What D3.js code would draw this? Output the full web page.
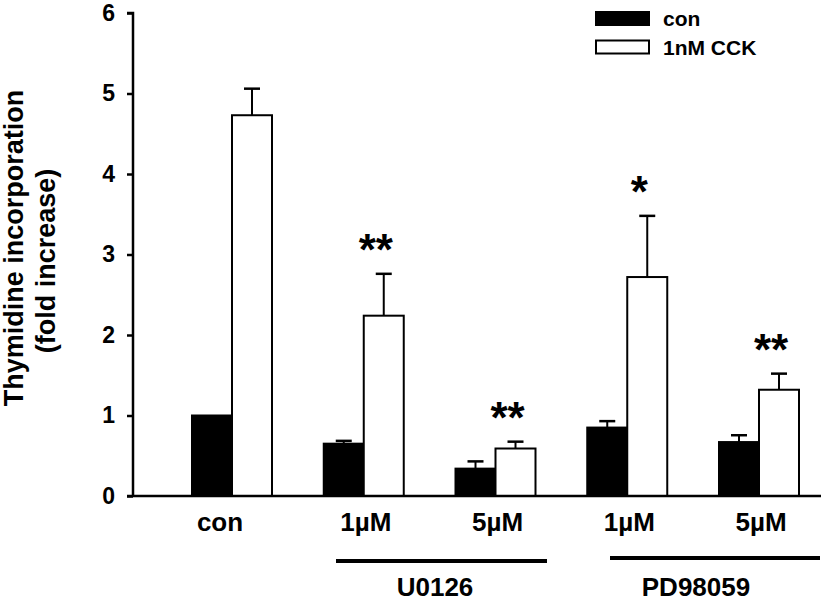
<!DOCTYPE html>
<html><head><meta charset="utf-8">
<script src="https://cdn.jsdelivr.net/npm/d3@7"></script>
<style>
html,body{margin:0;padding:0;background:#fff;}
svg{display:block;font-family:Arial,"Liberation Sans",sans-serif;font-weight:bold;}
</style></head>
<body><svg id="chart" width="826" height="602"></svg>
<script>
// ---- data ----
const groups = ["con", "U0126 1µM", "U0126 5µM", "PD98059 1µM", "PD98059 5µM"];
const groupLabels = ["con", "1µM", "5µM", "1µM", "5µM"];
const seriesNames = ["con", "1nM CCK"];
const conValues = [1.0, 0.65, 0.34, 0.85, 0.67];
const conErrors = [0.0, 0.035, 0.09, 0.08, 0.085];
const cckValues = [4.73, 2.24, 0.59, 2.72, 1.32];
const cckErrors = [0.33, 0.52, 0.085, 0.76, 0.2];
const significance = ["", "**", "**", "*", "**"];
const yTicks = [0, 1, 2, 3, 4, 5, 6];
const inhibitors = [
  {name: "U0126", members: ["U0126 1µM", "U0126 5µM"]},
  {name: "PD98059", members: ["PD98059 1µM", "PD98059 5µM"]}
];

// ---- layout ----
const svg = d3.select("#chart");
const x0 = 133, x1 = 821, yBase = 496, yTop = 13;
const y = d3.scaleLinear().domain([0, 6]).range([yBase, yTop]);
const x = d3.scalePoint().domain(groups).range([232, 759]);
const sub = d3.scaleBand().domain(seriesNames).range([-40, 40]);
const fills = {"con": "#000", "1nM CCK": "#fff"};

const rows = groups.map((g, i) => ({
  g, i,
  bars: [
    {s: "con", v: conValues[i], e: conErrors[i]},
    {s: "1nM CCK", v: cckValues[i], e: cckErrors[i]}
  ]
}));

// bars
const gg = svg.selectAll("g.grp").data(rows).enter().append("g")
  .attr("class", "grp").attr("transform", d => `translate(${x(d.g)},0)`);
gg.selectAll("rect").data(d => d.bars).enter().append("rect")
  .attr("x", d => sub(d.s)).attr("width", sub.bandwidth())
  .attr("y", d => y(d.v)).attr("height", d => yBase - y(d.v))
  .attr("fill", d => fills[d.s]).attr("stroke", "#000").attr("stroke-width", 2);
// error bars (upward)
const eb = gg.selectAll("g.err").data(d => d.bars.filter(b => b.e > 0)).enter().append("g").attr("class", "err");
eb.append("line")
  .attr("x1", d => sub(d.s) + sub.bandwidth() / 2).attr("x2", d => sub(d.s) + sub.bandwidth() / 2)
  .attr("y1", d => y(d.v)).attr("y2", d => y(d.v + d.e))
  .attr("stroke", "#000").attr("stroke-width", 2);
eb.append("line")
  .attr("x1", d => sub(d.s) + sub.bandwidth() / 2 - 8).attr("x2", d => sub(d.s) + sub.bandwidth() / 2 + 8)
  .attr("y1", d => y(d.v + d.e)).attr("y2", d => y(d.v + d.e))
  .attr("stroke", "#000").attr("stroke-width", 2.5);
// significance stars
gg.append("text")
  .attr("x", d => sub("1nM CCK") + sub.bandwidth() / 2 - 8)
  .attr("y", d => y(cckValues[d.i] + cckErrors[d.i]) - 9)
  .attr("text-anchor", "middle").attr("font-size", 44)
  .text(d => significance[d.i]);

// y axis
const yAxis = d3.axisLeft(y).tickValues(yTicks).tickSize(6).tickPadding(12).tickFormat(d3.format("d"));
const ya = svg.append("g").attr("transform", `translate(${x0},0)`).call(yAxis);
ya.select(".domain").attr("stroke", "#000").attr("stroke-width", 2.5).attr("d", `M-6,${yTop}H0V${yBase}`);
ya.selectAll(".tick line").attr("stroke", "#000").attr("stroke-width", 2.5);
ya.selectAll(".tick text").attr("font-size", 23).attr("font-weight", "bold")
  .attr("font-family", "Arial,'Liberation Sans',sans-serif").attr("fill", "#000");

// x axis line
svg.append("line").attr("x1", x0 - 6).attr("x2", x1).attr("y1", yBase).attr("y2", yBase)
  .attr("stroke", "#000").attr("stroke-width", 2.5);

// category labels
svg.selectAll("text.cat").data(groups).enter().append("text").attr("class", "cat")
  .attr("x", (d, i) => x(d) + (i === 0 ? -12 : 2)).attr("y", 531)
  .attr("text-anchor", "middle").attr("font-size", 26)
  .text((d, i) => groupLabels[i]);

// inhibitor brackets
const inhLine = [[336, 547, 561], [610, 820, 558]];
const inhLabel = [435, 696];
inhibitors.forEach((h, k) => {
  svg.append("line").attr("x1", inhLine[k][0]).attr("x2", inhLine[k][1])
    .attr("y1", inhLine[k][2]).attr("y2", inhLine[k][2]).attr("stroke", "#000").attr("stroke-width", 4);
  svg.append("text").attr("x", inhLabel[k]).attr("y", 596).attr("text-anchor", "middle")
    .attr("font-size", 26).text(h.name);
});

// y title
svg.append("text").attr("transform", "translate(23,248) rotate(-90)").attr("text-anchor", "middle")
  .attr("font-size", 27).text("Thymidine incorporation");
svg.append("text").attr("transform", "translate(55,261) rotate(-90)").attr("text-anchor", "middle")
  .attr("font-size", 27).text("(fold increase)");

// legend
const lg = svg.append("g");
seriesNames.forEach((s, i) => {
  lg.append("rect").attr("x", 596).attr("y", 12 + i * 28.5).attr("width", 53).attr("height", 13)
    .attr("fill", fills[s]).attr("stroke", "#000").attr("stroke-width", 2);
  lg.append("text").attr("x", 663).attr("y", 26 + i * 29).attr("font-size", 21).text(s);
});
</script></body></html>
